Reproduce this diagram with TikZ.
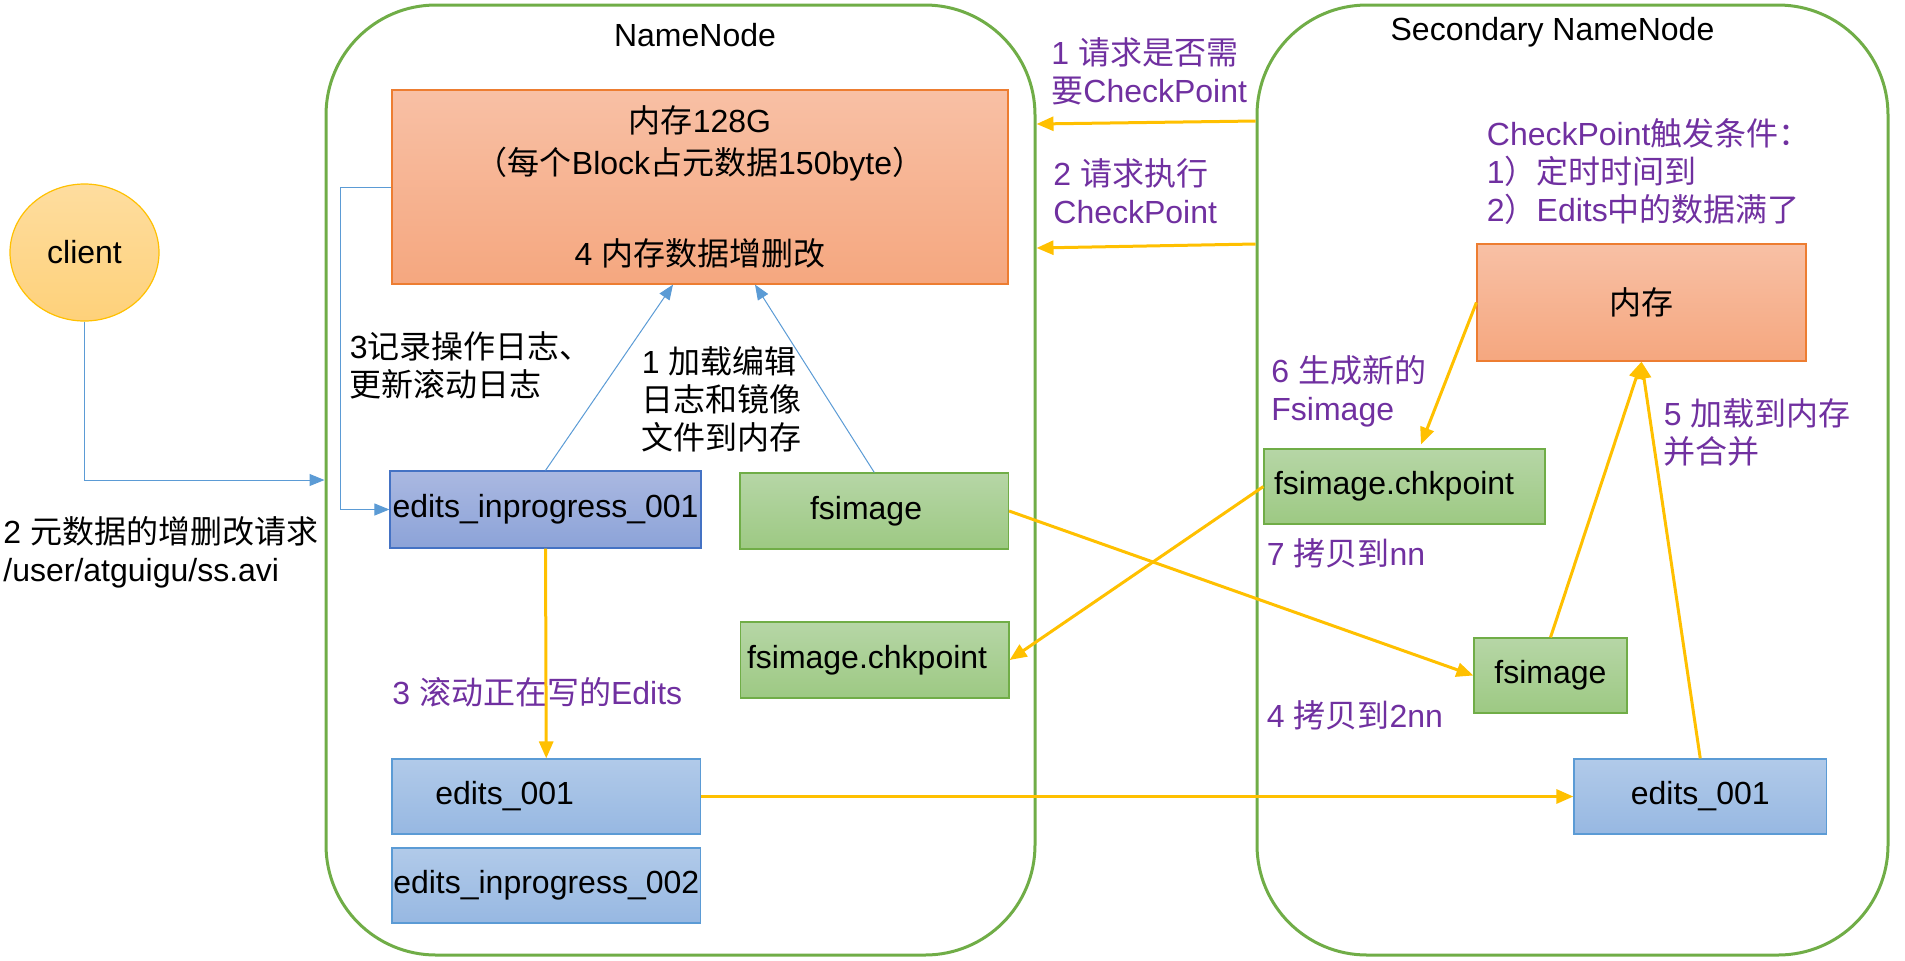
\documentclass[tikz,border=0pt]{standalone}
\usepackage{fontspec}
\setmainfont{Liberation Sans}
\newfontfamily\zhfont{Noto Sans CJK SC}
\newcommand{\zh}[1]{{\zhfont #1}}
\usetikzlibrary{arrows.meta,shapes.geometric}
\definecolor{frame}{HTML}{70AD47}
\definecolor{arrowy}{HTML}{FFC000}
\definecolor{arrowb}{HTML}{5B9BD5}
\definecolor{purp}{HTML}{7030A0}
\definecolor{memtop}{HTML}{F8C0A5}\definecolor{membot}{HTML}{F5A77F}\definecolor{memline}{HTML}{ED7D31}
\definecolor{logtop}{HTML}{AAB8E1}\definecolor{logbot}{HTML}{8CA3D8}\definecolor{logline}{HTML}{4472C4}
\definecolor{edtop}{HTML}{B1CAE9}\definecolor{edbot}{HTML}{97B8E2}
\definecolor{imgtop}{HTML}{B6D6A6}\definecolor{imgbot}{HTML}{9DC983}
\definecolor{clitop}{HTML}{FEDD9F}\definecolor{clibot}{HTML}{FED17A}
\tikzset{
  box/.style={draw,line width=.6pt,inner sep=0pt,align=center},
  memory/.style={box,draw=memline,top color=memtop,bottom color=membot},
  inlog/.style={box,draw=logline,top color=logtop,bottom color=logbot},
  edlog/.style={box,draw=arrowb,top color=edtop,bottom color=edbot},
  image/.style={box,draw=frame,top color=imgtop,bottom color=imgbot},
  server/.style={draw=frame,line width=1.5pt,rounded corners=55pt,inner sep=0pt},
  note/.style={anchor=west,align=left,inner sep=0pt},
  yarr/.style={draw=arrowy,line width=1.5pt,-{Triangle[length=8.5pt,width=7pt]}},
  barr/.style={draw=arrowb,line width=.5pt,-{Triangle[length=7.5pt,width=6pt]}}
}
\begin{document}
\begin{tikzpicture}[x=.5pt,y=-.5pt,font=\fontsize{16pt}{19pt}\selectfont]
  \useasboundingbox (0,0) rectangle (1905,960);
  % the two servers
  \node[server,minimum width=354.5pt,minimum height=475pt] (nn) at (680.5,480) {};
  \node[server,minimum width=315.5pt,minimum height=475pt] (snn) at (1572.5,480) {};
  \node (nntitle) at (695,35) {NameNode}; \node (snntitle) at (1552.5,32) {Secondary NameNode};
  \node[ellipse,draw=arrowy,line width=.6pt,top color=clitop,bottom color=clibot,inner sep=0pt,minimum width=74.5pt,minimum height=68.5pt] (client) at (84.5,252.5) {client};
  % NameNode side
  \node[memory,minimum width=308pt,minimum height=97pt] (nnmem) at (700,187) {\zh{内存}128G\\[2pt]\zh{（每个}Block\zh{占元数据}150byte\zh{）}\\[26.5pt]4 \zh{内存数据增删改}};
  \node[inlog,minimum width=155.5pt,minimum height=38.5pt] (eip1) at (545.5,509.5) {edits\_inprogress\_001};
  \node[image,minimum height=38pt,text width=64.25pt,align=left,inner xsep=35pt] (nnimg) at (874.25,511) {fsimage};
  \node[image,minimum height=38pt,text width=127.75pt,align=left,inner xsep=3.25pt] (nnchk) at (874.75,660) {fsimage.chkpoint};
  \node[edlog,minimum height=37.5pt,text width=111pt,align=left,inner xsep=21.6pt] (nne001) at (546.25,796.5) {edits\_001};
  \node[edlog,minimum width=154.25pt,minimum height=37.5pt] (eip2) at (546.25,885.5) {edits\_inprogress\_002};
  % Secondary NameNode side
  \node[memory,minimum width=164.5pt,minimum height=58.5pt] (snnmem) at (1641.5,302.5) {\zh{内存}};
  \node[image,minimum height=37.5pt,text width=130.5pt,align=left,inner xsep=5pt] (snnchk) at (1404.5,486.5) {fsimage.chkpoint};
  \node[image,minimum width=76.5pt,minimum height=37.5pt] (snnimg) at (1550.5,675.5) {fsimage};
  \node[edlog,minimum width=126.25pt,minimum height=37.5pt] (snne001) at (1700.25,796.5) {edits\_001};
  % texts
  \node[note] (rec3) at (349.5,365.5) {3\zh{记录操作日志、}\\\zh{更新滚动日志}};
  \node[note] (load1) at (641.5,399) {1 \zh{加载编辑}\\\zh{日志和镜像}\\\zh{文件到内存}};
  \node[note] (req2) at (3,552) {2 \zh{元数据的增删改请求}\\/user/atguigu/ss.avi};
  \node[note,text=purp] (roll3) at (392,692) {3 \zh{滚动正在写的}Edits};
  \node[note,text=purp] (ask1) at (1051,71.5) {1 \zh{请求是否需}\\\zh{要}CheckPoint};
  \node[note,text=purp] (do2) at (1053,191) {2 \zh{请求执行}\\CheckPoint};
  \node[note,text=purp] (cond) at (1486.5,171.5) {CheckPoint\zh{触发条件：}\\1\zh{）定时时间到}\\2\zh{）}Edits\zh{中的数据满了}};
  \node[note,text=purp] (gen6) at (1271,391) {6 \zh{生成新的}\\Fsimage};
  \node[note,text=purp] (merge5) at (1663.5,432.5) {5 \zh{加载到内存}\\\zh{并合并}};
  \node[note,text=purp] (copy7) at (1266.5,553) {7 \zh{拷贝到}nn};
  \node[note,text=purp] (copy4) at (1266.5,715) {4 \zh{拷贝到}2nn};
  % connectors
  \draw[barr] (client.south) |- (nn.west);
  \draw[barr] (nnmem.west) -- ++(-50.5,0) |- (eip1.west);
  \draw[barr] (eip1.north) -- ([xshift=-13.5pt]nnmem.south);
  \draw[barr] (nnimg.north) -- ([xshift=27.5pt]nnmem.south);
  \draw[yarr] (eip1.south) -- (nne001.north);
  \draw[yarr] (snn.west |- 0,121) -- (nn.east |- 0,124);
  \draw[yarr] (snn.west |- 0,244) -- (nn.east |- 0,248);
  \draw[yarr] (nnimg.east) -- (snnimg.west);
  \draw[yarr] (snnchk.west) -- (nnchk.east);
  \draw[yarr] (nne001.east) -- (snne001.west);
  \draw[yarr] (snnimg.north) -- (snnmem.south);
  \draw[yarr] (snne001.north) -- (snnmem.south);
  \draw[yarr] (snnmem.west) -- ([xshift=8.25pt,yshift=2pt]snnchk.north);
\end{tikzpicture}
\end{document}
